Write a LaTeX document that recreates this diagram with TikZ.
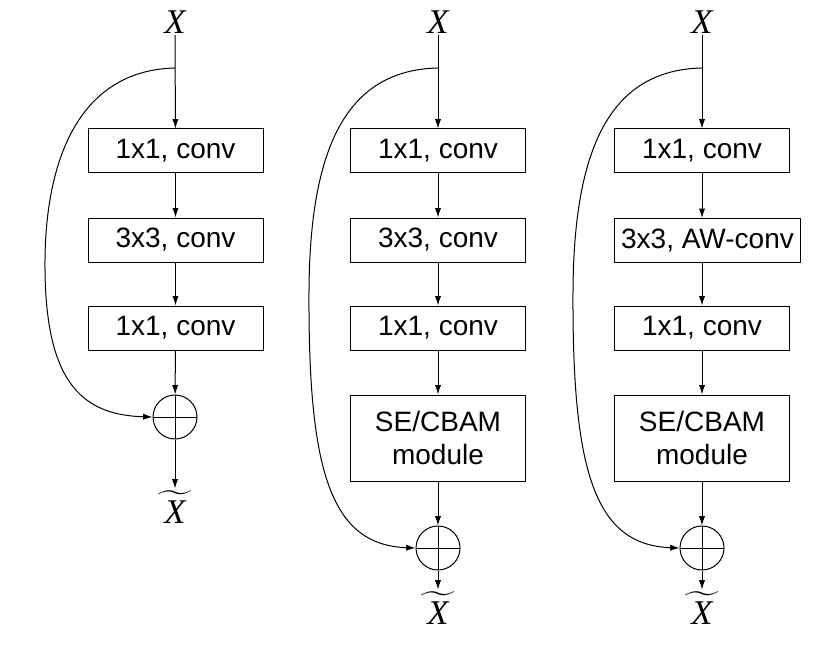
\documentclass[tikz,border=0pt]{standalone}
\usepackage{amsmath}
\usepackage{fontspec}
\setmainfont{Liberation Sans}
\newfontfamily\varfont{Liberation Serif}
\usetikzlibrary{arrows.meta}

\newcommand{\invar}{\hbox{\varfont\itshape X}}
\newcommand{\outvar}{\(\widetilde{\hbox to 26pt{\hss\varfont\itshape X\hss}}\)}

\begin{document}
\begin{tikzpicture}[
x=0.75pt, y=-0.75pt,
line width=0.75pt,
arr/.style={-{Latex[length=7pt, width=4.6pt]}},
blockbox/.style={
rectangle,
draw,
minimum width=131.25pt,
minimum height=33pt,
inner sep=2pt,
font=\fontsize{21}{25}\selectfont,
},
modbox/.style={
blockbox,
minimum height=64.5pt,
align=center,
},
sumnode/.style={
circle,
draw,
minimum size=33pt,
inner sep=0 pt,
path picture={
\draw (path picture bounding box.north) -- (path picture bounding box.south)
(path picture bounding box.west) -- (path picture bounding box.east);
},
},
varnode/.style={
inner sep=1pt,
font=\fontsize{26}{30}\selectfont,
}
]
\useasboundingbox (0,0) rectangle (830,652);

% first column
\node [varnode] at (175,22) (in1) {\invar};
\node [blockbox] at (175.5,151) (a1) {1x1, conv};
\node [blockbox] at (175.5,240) (b1) {3x3, conv};
\node [blockbox] at (175.5,328) (c1) {1x1, conv};
\node [sumnode] at (175,417) (sum1) {};
\node [varnode] at (175,507) (out1) {\outvar};
\coordinate (s1) at (175,68);

\draw [arr] (in1) -- (a1);
\draw [arr] (a1) -- (b1);
\draw [arr] (b1) -- (c1);
\draw [arr] (c1) -- (sum1);
\draw [arr] (sum1) -- (out1);
\draw [arr] (s1) .. controls (85,70) and (46,150) .. (45,260)
.. controls (44,380) and (80,415) .. (sum1.west);

% second column
\node [varnode] at (438,22) (in2) {\invar};
\node [blockbox] at (438,151) (a2) {1x1, conv};
\node [blockbox] at (438,240) (b2) {3x3, conv};
\node [blockbox] at (438,328) (c2) {1x1, conv};
\node [modbox] at (438,438) (d2) {SE/CBAM\\module};
\node [sumnode] at (438,548) (sum2) {};
\node [varnode] at (438,608) (out2) {\outvar};
\coordinate (s2) at (438,68);

\draw [arr] (in2) -- (a2);
\draw [arr] (a2) -- (b2);
\draw [arr] (b2) -- (c2);
\draw [arr] (c2) -- (d2);
\draw [arr] (d2) -- (sum2);
\draw [arr] (sum2) -- (out2);
\draw [arr] (s2) .. controls (345,70) and (310,150) .. (309,290)
.. controls (308,470) and (330,545) .. (sum2.west);

% third column
\node [varnode] at (702,22) (in3) {\invar};
\node [blockbox] at (702,151) (a3) {1x1, conv};
\node [blockbox, minimum width=140pt] at (707.5,240.5) (b3) {3x3, AW-conv};
\node [blockbox] at (702,328) (c3) {1x1, conv};
\node [modbox] at (702,438) (d3) {SE/CBAM\\module};
\node [sumnode] at (702,548) (sum3) {};
\node [varnode] at (702,608) (out3) {\outvar};
\coordinate (s3) at (702,68);

\draw [arr] (in3) -- (a3);
\draw [arr] (a3) -- (a3 |- b3.north);
\draw [arr] (a3 |- b3.south) -- (c3);
\draw [arr] (c3) -- (d3);
\draw [arr] (d3) -- (sum3);
\draw [arr] (sum3) -- (out3);
\draw [arr] (s3) .. controls (609,70) and (574,150) .. (573,290)
.. controls (572,470) and (594,545) .. (sum3.west);

\end{tikzpicture}
\end{document}
